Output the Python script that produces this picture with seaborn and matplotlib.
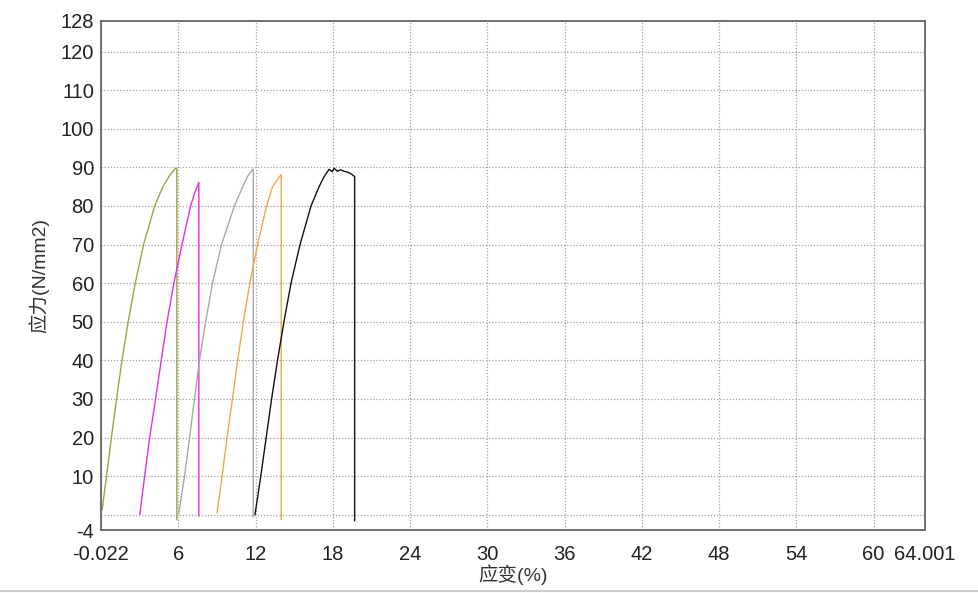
import matplotlib
matplotlib.use("Agg")
import matplotlib.pyplot as plt
import pandas as pd
import seaborn as sns
from matplotlib.lines import Line2D

# strain (%) / stress (N/mm2)
s1_strain = [0.08, 0.42, 0.8, 1.2, 1.62, 2.1, 2.65, 3.3, 4.16, 4.8, 5.3, 5.78, 5.88, 5.88]
s1_stress = [1.3, 10.0, 20.0, 30.0, 40.0, 50.0, 60.0, 70.0, 80.0, 85.0, 87.8, 89.8, 89.6, -1.3]

s2_strain = [3.0, 3.38, 3.77, 4.23, 4.67, 5.12, 5.65, 6.28, 6.95, 7.28, 7.59, 7.59]
s2_stress = [0.0, 10.0, 20.0, 30.0, 40.0, 50.0, 60.0, 70.0, 80.0, 83.5, 86.1, -0.4]

s3_strain = [6.01, 6.48, 6.87, 7.25, 7.64, 8.12, 8.65, 9.35, 10.35, 11.0, 11.4, 11.77, 11.82, 11.82]
s3_stress = [0.0, 10.0, 20.0, 30.0, 40.0, 50.0, 60.0, 70.0, 80.0, 85.0, 87.8, 89.5, 89.3, -0.6]

s4_strain = [9.0, 9.4, 9.78, 10.2, 10.6, 11.05, 11.55, 12.15, 12.85, 13.31, 13.96, 13.99, 13.99]
s4_stress = [0.4, 10.0, 20.0, 30.0, 40.0, 50.0, 60.0, 70.0, 80.0, 85.0, 88.1, 88.0, -1.3]

s5_strain = [11.95, 12.4, 12.82, 13.24, 13.7, 14.2, 14.75, 15.45, 16.3, 16.93, 17.3, 17.7,
             17.96, 18.09, 18.35, 18.6, 18.86, 19.12, 19.38, 19.63, 19.69, 19.69]
s5_stress = [0.0, 10.0, 20.0, 30.0, 40.0, 50.0, 60.0, 70.0, 80.0, 85.0, 87.5, 89.5,
             88.9, 89.8, 89.0, 89.4, 89.0, 88.8, 88.4, 87.8, 87.6, -1.6]

colors = ["#a3a048", "#e030e0", "#a8a8a8", "#f0a848", "#111111"]

x_ticks = [-0.022, 6, 12, 18, 24, 30, 36, 42, 48, 54, 60, 64.001]
x_labels = ["-0.022", "6", "12", "18", "24", "30", "36", "42", "48", "54", "60", "64.001"]
y_ticks = [-4, 0, 10, 20, 30, 40, 50, 60, 70, 80, 90, 100, 110, 120, 128]
y_labels = ["-4", "", "10", "20", "30", "40", "50", "60", "70", "80", "90",
            "100", "110", "120", "128"]

frames = []
for i, (sx, sy) in enumerate([(s1_strain, s1_stress), (s2_strain, s2_stress),
                              (s3_strain, s3_stress), (s4_strain, s4_stress),
                              (s5_strain, s5_stress)]):
    frames.append(pd.DataFrame({"strain": sx, "stress": sy, "specimen": f"S{i + 1}"}))
df = pd.concat(frames, ignore_index=True)

sns.set_theme(style="white")
plt.rcParams["font.family"] = ["Liberation Sans", "Noto Sans CJK SC"]

fig, ax = plt.subplots(figsize=(9.79, 5.93), dpi=100)
fig.subplots_adjust(left=0.103, right=0.945, top=0.965, bottom=0.106)

sns.lineplot(data=df, x="strain", y="stress", hue="specimen", palette=colors,
             sort=False, estimator=None, linewidth=1.0, legend=False, ax=ax)

ax.set_xlim(-0.022, 64.001)
ax.set_ylim(-4, 128)
ax.set_xticks(x_ticks)
ax.set_xticklabels(x_labels)
ax.set_yticks(y_ticks)
ax.set_yticklabels(y_labels)
ax.tick_params(axis="both", length=0, labelsize=14.5, colors="#222222")
ax.tick_params(axis="x", pad=11)
ax.tick_params(axis="y", pad=5)
ax.grid(True, linestyle=(0, (1, 1.5)), color="#a0a0a0", linewidth=0.9)
ax.set_axisbelow(True)

for sp in ax.spines.values():
    sp.set_color("#666666")
    sp.set_linewidth(1.3)

ax.set_xlabel("应变(%)", fontsize=14, color="#333333", labelpad=0)
ax.set_ylabel("应力(N/mm2)", fontsize=14, color="#333333", labelpad=8)

fig.add_artist(Line2D([0, 1], [0.004, 0.004], color="#cccccc", linewidth=1.5,
                      transform=fig.transFigure))

fig.savefig("out.png", dpi=100, facecolor="white")
